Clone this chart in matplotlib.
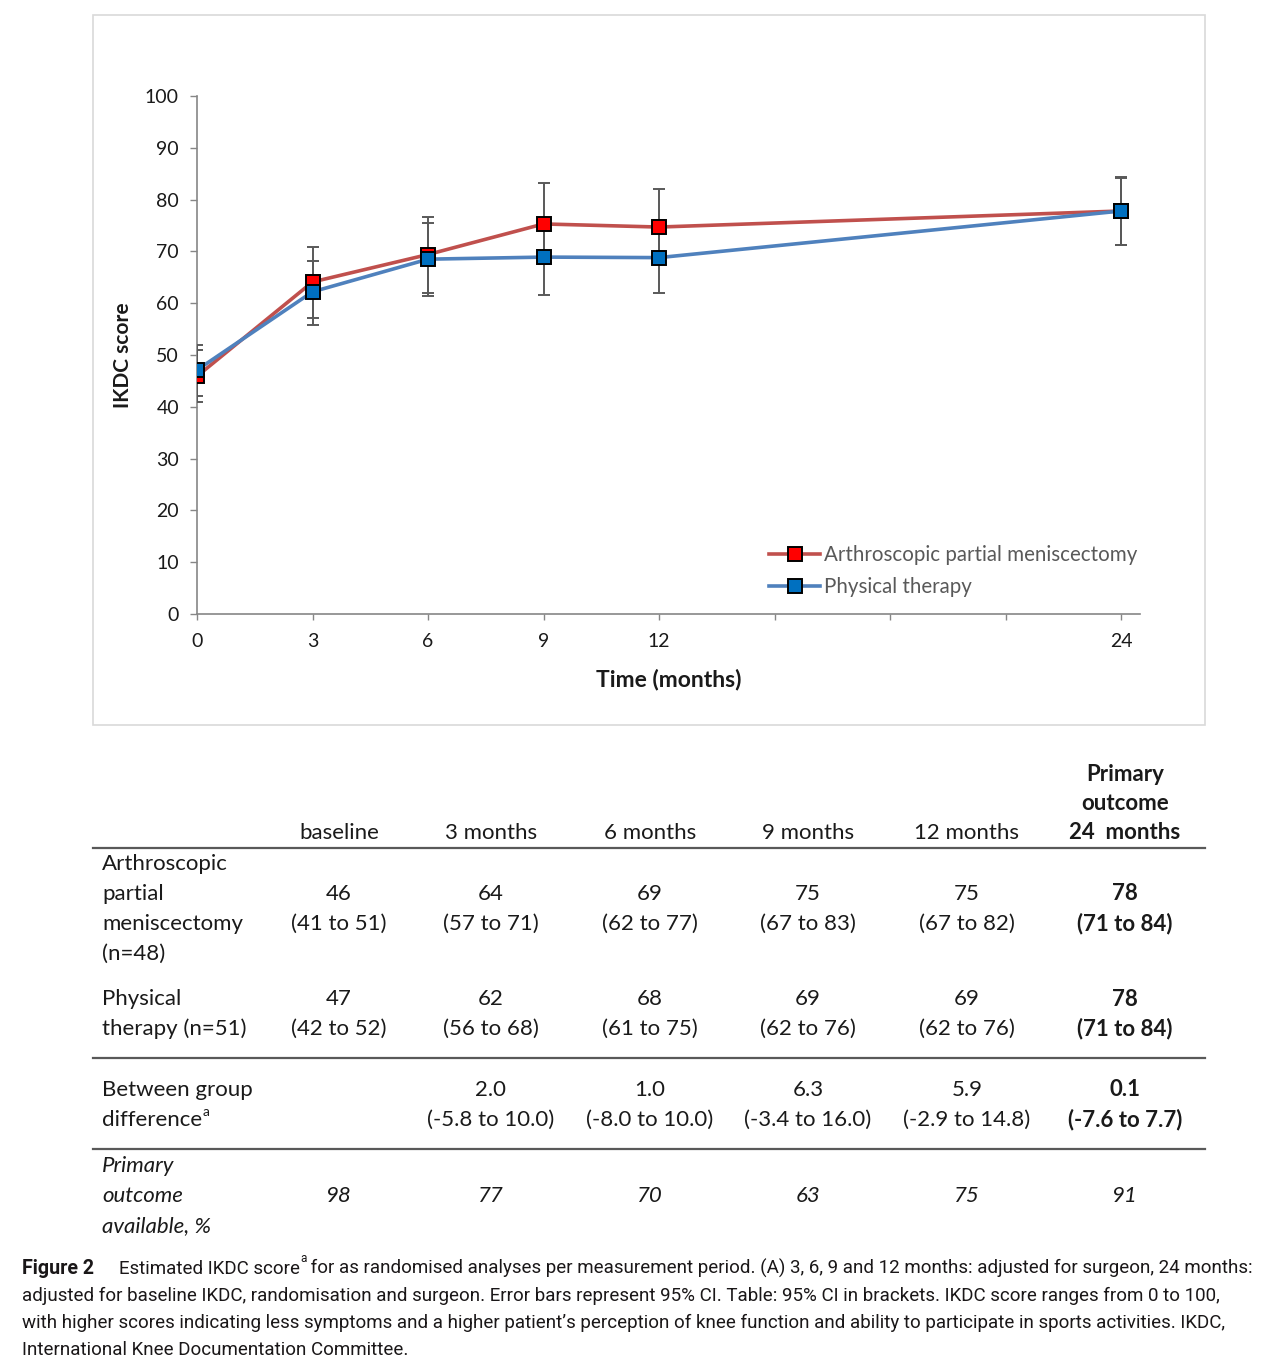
import matplotlib
matplotlib.use("Agg")
import matplotlib.pyplot as plt
from matplotlib.patches import Rectangle
from matplotlib.lines import Line2D
import numpy as np

plt.rcParams['font.family'] = ['Lato', 'DejaVu Sans']

# データ
months = [0, 3, 6, 9, 12, 24]
apm_mean = [45.9, 64.1, 69.4, 75.3, 74.7, 77.8]
apm_lo = [41.0, 57.2, 61.9, 67.5, 67.5, 71.3]
apm_hi = [51.0, 70.8, 76.7, 83.3, 82.0, 84.3]
pt_mean = [47.1, 62.2, 68.5, 68.9, 68.8, 77.8]
pt_lo = [42.0, 55.8, 61.4, 61.6, 61.9, 71.3]
pt_hi = [52.0, 68.2, 75.4, 76.0, 76.0, 84.1]

tick_pos = [0, 3, 6, 9, 12, 15, 18, 21, 24]
tick_lab = ["0", "3", "6", "9", "12", "", "", "", "24"]

col_heads = ["baseline", "3 months", "6 months", "9 months", "12 months"]
apm_vals = ["46", "64", "69", "75", "75", "78"]
apm_ci = ["(41 to 51)", "(57 to 71)", "(62 to 77)", "(67 to 83)", "(67 to 82)", "(71 to 84)"]
pt_vals = ["47", "62", "68", "69", "69", "78"]
pt_ci = ["(42 to 52)", "(56 to 68)", "(61 to 75)", "(62 to 76)", "(62 to 76)", "(71 to 84)"]
diff_vals = ["", "2.0", "1.0", "6.3", "5.9", "0.1"]
diff_ci = ["", "(-5.8 to 10.0)", "(-8.0 to 10.0)", "(-3.4 to 16.0)", "(-2.9 to 14.8)", "(-7.6 to 7.7)"]
avail = ["98", "77", "70", "63", "75", "91"]

caption = [
    "for as randomised analyses per measurement period. (A) 3, 6, 9 and 12 months: adjusted for surgeon, 24 months:",
    "adjusted for baseline IKDC, randomisation and surgeon. Error bars represent 95% CI. Table: 95% CI in brackets. IKDC score ranges from 0 to 100,",
    "with higher scores indicating less symptoms and a higher patient\u2019s perception of knee function and ability to participate in sports activities. IKDC,",
    "International Knee Documentation Committee.",
]

W, H = 1280, 1372
fig = plt.figure(figsize=(W / 100, H / 100), dpi=100)


def fx(x):
    return x / W


def fy(y):
    return 1 - y / H


# 枠
fig.patches.append(Rectangle((fx(93), fy(725)), fx(1205 - 93), (725 - 15) / H,
                             transform=fig.transFigure, fill=False,
                             edgecolor="#D9D9D9", linewidth=1.2))

ax = fig.add_axes([fx(197), fy(614), fx(1140 - 197), (614 - 96) / H])
ax.set_xlim(0, 24 * (1140 - 197) / (1121 - 197))
ax.set_ylim(0, 100)

red_line, red_face = "#C0504D", "#FF0000"
blue_line, blue_face = "#4F81BD", "#0070C0"
ecol = "#595959"

for mean, lo, hi, lc, mf, lab in [
    (apm_mean, apm_lo, apm_hi, red_line, red_face, "Arthroscopic partial meniscectomy"),
    (pt_mean, pt_lo, pt_hi, blue_line, blue_face, "Physical therapy"),
]:
    m = np.array(mean)
    yerr = [m - np.array(lo), np.array(hi) - m]
    ax.plot(months, mean, color=lc, lw=2.6, zorder=2, solid_capstyle="round")
    ax.errorbar(months, mean, yerr=yerr, fmt="none", ecolor=ecol, elinewidth=1.4,
                capsize=4.3, capthick=1.4, zorder=3)
    ax.plot(months, mean, ls="none", marker="s", ms=10, mfc=mf, mec="black",
            mew=1.4, zorder=4, label=lab)

for s in ["top", "right"]:
    ax.spines[s].set_visible(False)
for s in ["left", "bottom"]:
    ax.spines[s].set_color("#868686")
    ax.spines[s].set_linewidth(1.2)

ax.set_yticks(range(0, 101, 10))
ax.set_xticks(tick_pos)
ax.set_xticklabels(tick_lab)
ax.tick_params(axis="y", direction="out", length=5, width=1, color="#868686",
               labelsize=14, pad=8, labelcolor="#1a1a1a")
ax.tick_params(axis="x", direction="out", length=4, width=1, color="#868686",
               labelsize=14, pad=10, labelcolor="#1a1a1a")

fig.text(fx(123), fy(355), "IKDC score", rotation=90, ha="center", va="center",
         fontsize=15, fontweight="bold", color="#1a1a1a")
fig.text(fx(669), fy(679), "Time (months)", ha="center", va="center",
         fontsize=16.5, fontweight="bold", color="#1a1a1a")

handles = [
    Line2D([], [], color=red_line, lw=2.6, marker="s", ms=10, mfc=red_face, mec="black", mew=1.4),
    Line2D([], [], color=blue_line, lw=2.6, marker="s", ms=10, mfc=blue_face, mec="black", mew=1.4),
]
fig.legend(handles, ["Arthroscopic partial meniscectomy", "Physical therapy"],
           loc="upper left", bbox_to_anchor=(fx(769), fy(545)), frameon=False,
           fontsize=14.8, handlelength=2.5, handletextpad=0.2, labelspacing=0.6,
           borderpad=0, borderaxespad=0, labelcolor="#595959")

# 表
tc = "#1a1a1a"
tfs = 16
cols = [339, 491, 650, 808, 967, 1125]
lab_x = 102

for cx, h in zip(cols[:5], col_heads):
    fig.text(fx(cx), fy(833), h, ha="center", va="center", fontsize=tfs, color=tc)
for yy, t in zip([774, 804, 833], ["Primary", "outcome", "24  months"]):
    fig.text(fx(cols[5]), fy(yy), t, ha="center", va="center", fontsize=tfs,
             color=tc, fontweight="bold")

for yy in [848, 1058, 1149]:
    fig.add_artist(Line2D([fx(93), fx(1205)], [fy(yy), fy(yy)], color="#595959", lw=1.6))

for yy, t in zip([864, 894, 924, 954], ["Arthroscopic", "partial", "meniscectomy", "(n=48)"]):
    fig.text(fx(lab_x), fy(yy), t, ha="left", va="center", fontsize=tfs, color=tc)
for yy, t in zip([999, 1029], ["Physical", "therapy (n=51)"]):
    fig.text(fx(lab_x), fy(yy), t, ha="left", va="center", fontsize=tfs, color=tc)
fig.text(fx(lab_x), fy(1090), "Between group", ha="left", va="center", fontsize=tfs, color=tc)
dt = fig.text(fx(lab_x), fy(1120), "difference", ha="left", va="center", fontsize=tfs, color=tc)
ov = fig.add_axes([0, 0, 1, 1])
ov.axis("off")
ov.annotate("a", xy=(1, 0.62), xycoords=dt, ha="left", va="bottom", fontsize=10, color=tc)
for yy, t in zip([1166, 1196, 1226], ["Primary", "outcome", "available, %"]):
    fig.text(fx(lab_x), fy(yy), t, ha="left", va="center", fontsize=tfs, color=tc, style="italic")

for i, cx in enumerate(cols):
    fw = "bold" if i == 5 else "normal"
    fig.text(fx(cx), fy(894), apm_vals[i], ha="center", va="center", fontsize=tfs, color=tc, fontweight=fw)
    fig.text(fx(cx), fy(924), apm_ci[i], ha="center", va="center", fontsize=tfs, color=tc, fontweight=fw)
    fig.text(fx(cx), fy(999), pt_vals[i], ha="center", va="center", fontsize=tfs, color=tc, fontweight=fw)
    fig.text(fx(cx), fy(1029), pt_ci[i], ha="center", va="center", fontsize=tfs, color=tc, fontweight=fw)
    fig.text(fx(cx), fy(1090), diff_vals[i], ha="center", va="center", fontsize=tfs, color=tc, fontweight=fw)
    fig.text(fx(cx), fy(1120), diff_ci[i], ha="center", va="center", fontsize=tfs, color=tc, fontweight=fw)
    fig.text(fx(cx), fy(1196), avail[i], ha="center", va="center", fontsize=tfs, color=tc, style="italic")

# キャプション
cfam = ["Roboto", "DejaVu Sans"]
cfs = 13.5
ccol = "#1a1718"
fig.text(fx(22), fy(1269), "Figure 2", ha="left", va="center", fontsize=cfs + 0.6,
         fontweight="bold", color=ccol, family=cfam)
c1 = fig.text(fx(119), fy(1269), "Estimated IKDC score", ha="left", va="center",
              fontsize=cfs, color=ccol, family=cfam)
sa = ov.annotate("a", xy=(1, 0.72), xycoords=c1, ha="left", va="bottom",
                 fontsize=8.5, color=ccol, family=cfam)
ov.annotate(" " + caption[0], xy=(1, 0), xycoords=(sa, c1),
            ha="left", va="bottom", fontsize=cfs, color=ccol, family=cfam)
for yy, t in zip([1296, 1323, 1350], caption[1:]):
    fig.text(fx(22), fy(yy), t, ha="left", va="center", fontsize=cfs, color=ccol, family=cfam)

fig.savefig("out.png", dpi=100)
